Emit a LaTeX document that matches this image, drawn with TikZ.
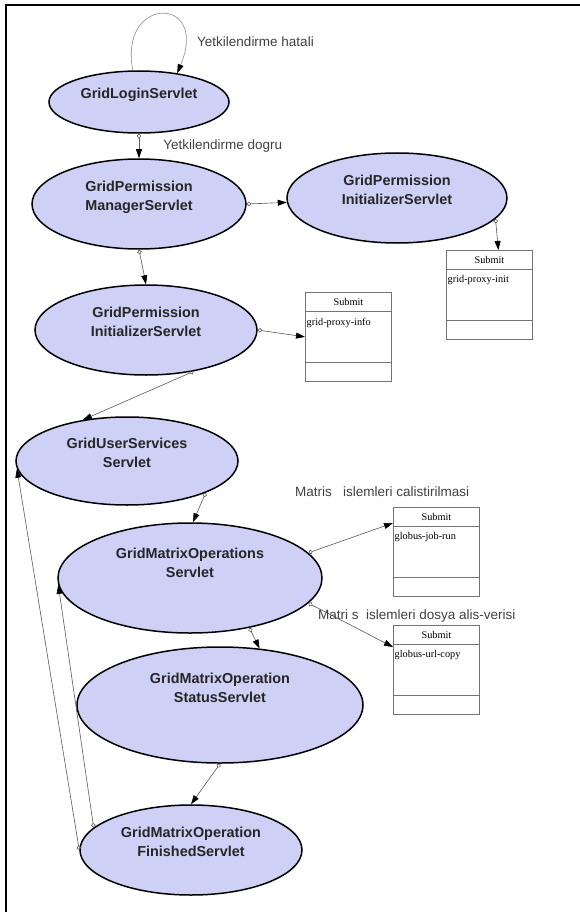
\documentclass[tikz,border=0pt]{standalone}
\usepackage{fontspec}
\setmainfont{Liberation Serif}
\setsansfont{Liberation Sans}
\usepackage{tikz}
\usetikzlibrary{arrows.meta,shapes.geometric}
\definecolor{servletfill}{RGB}{206,208,246}

\begin{document}
\begin{tikzpicture}[x=1pt, y=-1pt,
    servlet/.style  = {ellipse, draw=black, line width=1.5pt, fill=servletfill, inner sep=0pt},
    servname/.style = {align=center, inner sep=0pt, text=black!85,
                       font=\sffamily\bfseries\fontsize{14.4}{19}\selectfont},
    note/.style     = {anchor=west, inner sep=0pt, text=black!75,
                       font=\sffamily\fontsize{13.5}{16}\selectfont},
    submitbox/.style = {draw=black!55, line width=0.8pt, fill=white, anchor=north west,
                        minimum width=86pt, minimum height=89pt, inner sep=0pt},
    boxrule/.style  = {draw=black!55, line width=0.8pt},
    boxtext/.style  = {inner sep=0pt, font=\rmfamily\fontsize{10.3}{12}\selectfont},
    flow/.style     = {draw=black!65, line width=0.6pt,
                       arrows={Circle[open,length=4.5pt,width=4.5pt]-Triangle[length=9pt,width=6pt,black]}},
    selfloop/.style = {draw=black!45, line width=0.6pt, arrows={-Triangle[length=9pt,width=6pt,black]}}
  ]
  \useasboundingbox (0,0) rectangle (580,912);
  \draw[line width=2.2pt] (6,912) -- (6,5.3) -- (580,5.3);

  \node[servlet, minimum width=180pt, minimum height=62pt]  (login)      at (139,102) {};
  \node[servlet, minimum width=214pt, minimum height=90pt]  (manager)    at (139,204) {};
  \node[servlet, minimum width=220pt, minimum height=90pt]  (initright)  at (397,198) {};
  \node[servlet, minimum width=222pt, minimum height=90pt]  (initleft)   at (146,330) {};
  \node[servlet, minimum width=222pt, minimum height=88pt]  (users)      at (127,461) {};
  \node[servlet, minimum width=264pt, minimum height=110pt] (matrixops)  at (190,578) {};
  \node[servlet, minimum width=286pt, minimum height=116pt] (opstatus)   at (220,705) {};
  \node[servlet, minimum width=222pt, minimum height=90pt]  (opfinished) at (191,850) {};

  \node[servname, yshift=7pt]  (login-t)      at (login)      {GridLoginServlet};
  \node[servname, yshift=7pt]  (manager-t)    at (manager)    {GridPermission\\ManagerServlet};
  \node[servname, yshift=8pt]  (initright-t)  at (initright)  {GridPermission\\InitializerServlet};
  \node[servname, yshift=8pt]  (initleft-t)   at (initleft)   {GridPermission\\InitializerServlet};
  \node[servname, yshift=8pt]  (users-t)      at (users)      {GridUserServices\\Servlet};
  \node[servname, yshift=15pt] (matrixops-t)  at (matrixops)  {GridMatrixOperations\\Servlet};
  \node[servname, yshift=17pt] (opstatus-t)   at (opstatus)   {GridMatrixOperation\\StatusServlet};
  \node[servname, yshift=8pt]  (opfinished-t) at (opfinished) {GridMatrixOperation\\FinishedServlet};

  \foreach \bname/\bx/\by/\bcmd in {proxyinit/446/250/grid-proxy-init, proxyinfo/305/292/grid-proxy-info,
                                     jobrun/393/507/globus-job-run, urlcopy/393/625/globus-url-copy}{
    \node[submitbox] (\bname) at (\bx,\by) {};
    \draw[boxrule] ([yshift=-19.5pt]\bname.north west) -- ([yshift=-19.5pt]\bname.north east)
                   ([yshift=19.5pt]\bname.south west) -- ([yshift=19.5pt]\bname.south east);
    \node[boxtext] (\bname-head) at ([yshift=-10pt]\bname.north) {Submit};
    \node[boxtext, anchor=west] (\bname-cmd) at ([xshift=1.5pt, yshift=-30.5pt]\bname.north west) {\bcmd};
  }

  \draw[selfloop] (login.101) .. controls (118,-5) and (210,-5) .. (login.37);
  \node[note] (failnote) at (197,42) {Yetkilendirme hatali};

  \draw[flow] (login.south) -- (manager.north)
    node[note, midway, xshift=24pt] (oknote) {Yetkilendirme dogru};
  \draw[flow] (manager.east) -- (initright);
  \draw[flow] (initright.-12) -- ([xshift=9pt]proxyinit.north);
  \draw[flow] (manager.south) -- (initleft.north);
  \draw[flow] (initleft.east) -- (proxyinfo.west);
  \draw[flow] (initleft.-41) -- (users.137);
  \draw[flow] (users.-22) -- (matrixops.87);
  \draw[flow] (matrixops.12) -- ([yshift=-16pt]jobrun.north west);
  \draw[flow] (matrixops.-12) -- ([yshift=-22pt]urlcopy.north west);
  \draw[flow] (matrixops.-40) -- (opstatus.55);
  \draw[flow] (opstatus.south) -- (opfinished.north);
  \draw[flow] (opfinished.west) -- (users.184);
  \draw[flow] (opfinished.167) -- (matrixops.183);

  \node[note] (runnote)  at (295,492) {Matris\ \ \ islemleri calistirilmasi};
  \node[note] (copynote) at (318,616) {Matri s\ \ islemleri dosya alis-verisi};
\end{tikzpicture}
\end{document}
